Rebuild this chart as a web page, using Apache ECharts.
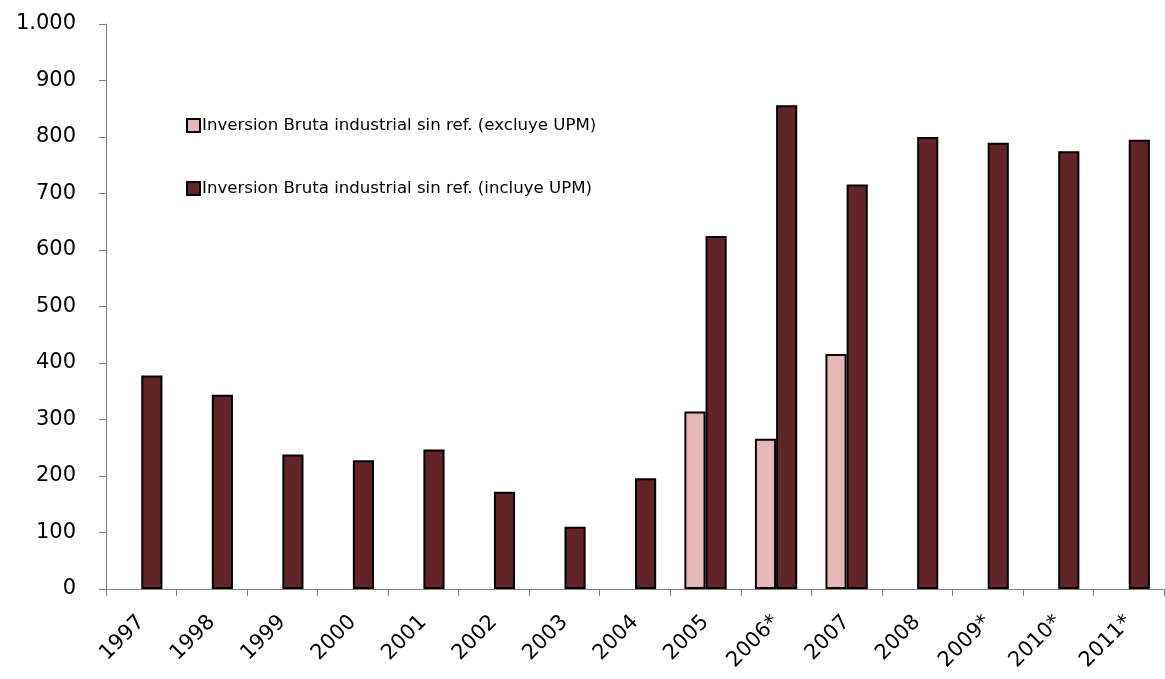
<!DOCTYPE html>
<html>
<head>
<meta charset="utf-8">
<script src="https://cdn.jsdelivr.net/npm/echarts@6/dist/echarts.min.js"></script>
<style>
  html, body { margin: 0; padding: 0; background: #ffffff; }
  #chart { width: 1165px; height: 679px; }
</style>
</head>
<body>
<div id="chart"></div>
<script>
// Years (asterisk marks projected values)
const years = ['1997', '1998', '1999', '2000', '2001', '2002', '2003', '2004',
               '2005', '2006*', '2007', '2008', '2009*', '2010*', '2011*'];

// Gross industrial investment excluding UPM (only reported 2005-2007)
const excluyeUPM = [null, null, null, null, null, null, null, null,
                    314, 266, 416, null, null, null, null];

// Gross industrial investment including UPM
const incluyeUPM = [378, 344, 238, 228, 247, 172, 110, 196,
                    625, 856, 716, 800, 790, 775, 795];

const yTicks = { min: 0, max: 1000, interval: 100 };

const seriesNames = [
  'Inversion Bruta industrial sin ref. (excluye UPM)',
  'Inversion Bruta industrial sin ref. (incluye UPM)'
];

const chart = echarts.init(document.getElementById('chart'), null, { renderer: 'canvas' });

const axisGray = '#808080';
const fontFam = '"DejaVu Sans", Verdana, sans-serif';

chart.setOption({
  animation: false,
  backgroundColor: '#ffffff',
  grid: { left: 106, right: 1, top: 24, bottom: 90, containLabel: false },
  legend: {
    orient: 'vertical',
    left: 181,
    top: 112,
    padding: 5,
    itemGap: 46,
    itemWidth: 13,
    itemHeight: 13,
    icon: 'rect',
    textStyle: {
      fontFamily: fontFam, fontSize: 16.6, lineHeight: 17, color: '#000',
      padding: [0, 0, 0, -3]
    },
    data: seriesNames
  },
  xAxis: {
    type: 'category',
    data: years,
    boundaryGap: true,
    axisLine: { lineStyle: { color: axisGray, width: 1 } },
    axisTick: { show: true, length: 7, alignWithLabel: false, lineStyle: { color: axisGray } },
    axisLabel: {
      interval: 0,
      rotate: 45,
      fontFamily: fontFam,
      fontSize: 21,
      color: '#000',
      margin: 30
    },
    splitLine: { show: false }
  },
  yAxis: {
    type: 'value',
    min: yTicks.min,
    max: yTicks.max,
    interval: yTicks.interval,
    axisLine: { show: true, lineStyle: { color: axisGray, width: 1 } },
    axisTick: { show: true, length: 7, lineStyle: { color: axisGray } },
    axisLabel: {
      fontFamily: fontFam,
      fontSize: 21,
      color: '#000',
      margin: 30,
      formatter: v => v >= 1000 ? (Math.floor(v / 1000) + '.' + String(v % 1000).padStart(3, '0')) : String(v)
    },
    splitLine: { show: false }
  },
  series: [
    {
      name: seriesNames[0],
      type: 'bar',
      data: excluyeUPM,
      barGap: '0%',
      barCategoryGap: '40%',
      itemStyle: { color: '#E6B8B7', borderColor: '#000', borderWidth: 2 }
    },
    {
      name: seriesNames[1],
      type: 'bar',
      data: incluyeUPM,
      barGap: '0%',
      barCategoryGap: '40%',
      itemStyle: { color: '#632427', borderColor: '#000', borderWidth: 2 }
    }
  ]
});
</script>
</body>
</html>
